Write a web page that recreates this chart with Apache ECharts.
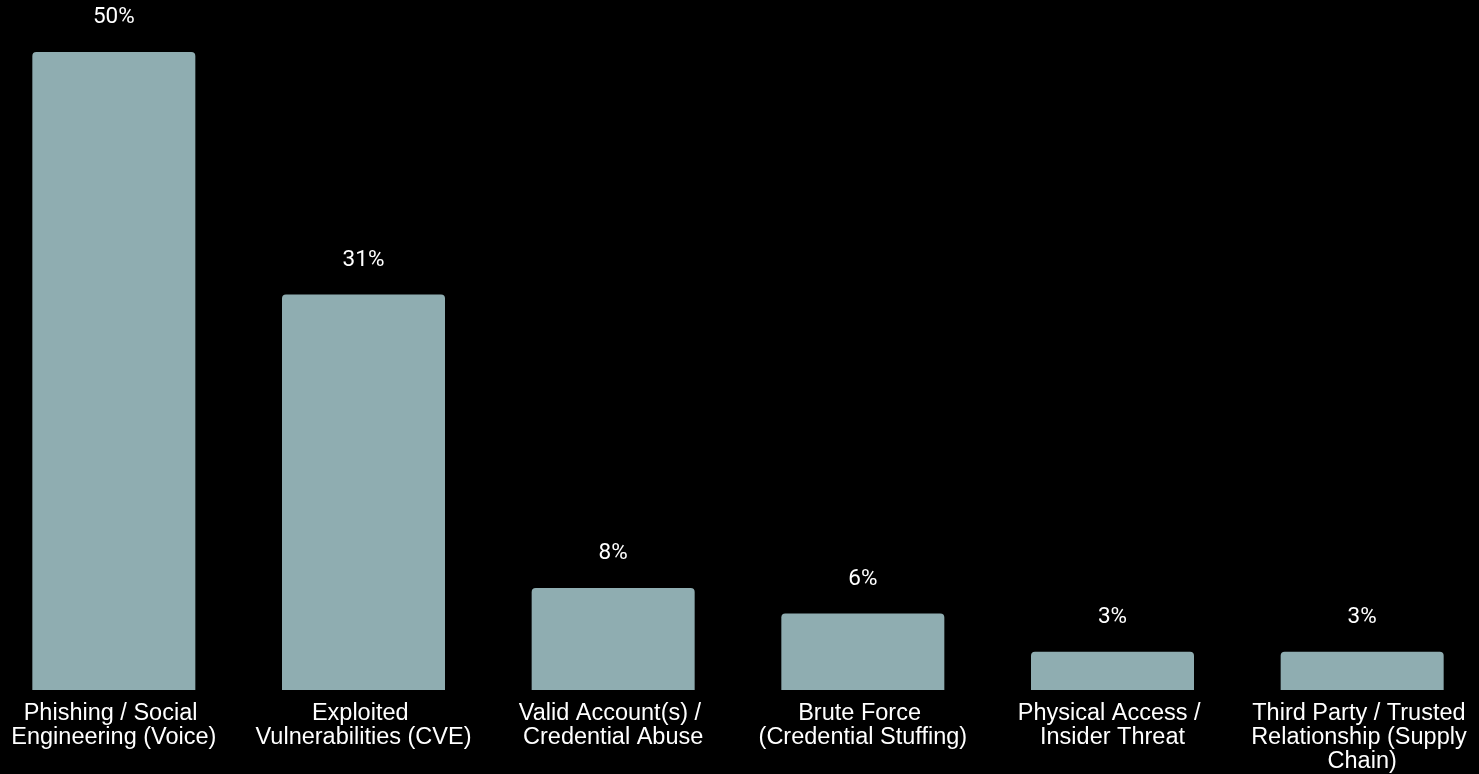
<!DOCTYPE html>
<html>
<head>
<meta charset="utf-8">
<style>
  html, body { margin: 0; padding: 0; background: #000; }
  #chart { width: 1479px; height: 774px; }
</style>
<script src="https://cdn.jsdelivr.net/npm/echarts@6/dist/echarts.min.js"></script>
</head>
<body>
<div id="chart"></div>
<script>
// Initial access vectors, share of incidents (%)
const categories = [
  'Phishing / Social Engineering (Voice)',
  'Exploited Vulnerabilities (CVE)',
  'Valid Account(s) / Credential Abuse',
  'Brute Force (Credential Stuffing)',
  'Physical Access / Insider Threat',
  'Third Party / Trusted Relationship (Supply Chain)'
];
const shares = [50, 31, 8, 6, 3, 3];

const chart = echarts.init(document.getElementById('chart'), null, { renderer: 'canvas' });

chart.setOption({
  backgroundColor: '#000000',
  animation: false,
  grid: {
    left: -11,
    right: -8,
    top: 52,
    bottom: 84,
    containLabel: false,
    outerBoundsMode: 'none'
  },
  xAxis: {
    type: 'category',
    data: categories,
    axisLine: { show: false },
    axisTick: { show: false },
    axisLabel: {
      color: '#ffffff',
      fontFamily: 'Liberation Sans, Arial, sans-serif',
      fontSize: 23.5,
      lineHeight: 24,
      margin: 12,
      width: 228,
      overflow: 'break',
      interval: 0
    }
  },
  yAxis: {
    type: 'value',
    min: 0,
    max: 50,
    show: false,
    splitLine: { show: false }
  },
  series: [{
    type: 'bar',
    data: shares,
    barWidth: 163,
    itemStyle: {
      color: '#8fadb1',
      borderRadius: [4, 4, 0, 0]
    },
    label: {
      show: true,
      position: 'top',
      distance: 23,
      color: '#ffffff',
      fontFamily: 'Roboto, sans-serif',
      fontSize: 22.5,
      formatter: p => p.value + '%'
    }
  }]
});
</script>
</body>
</html>
